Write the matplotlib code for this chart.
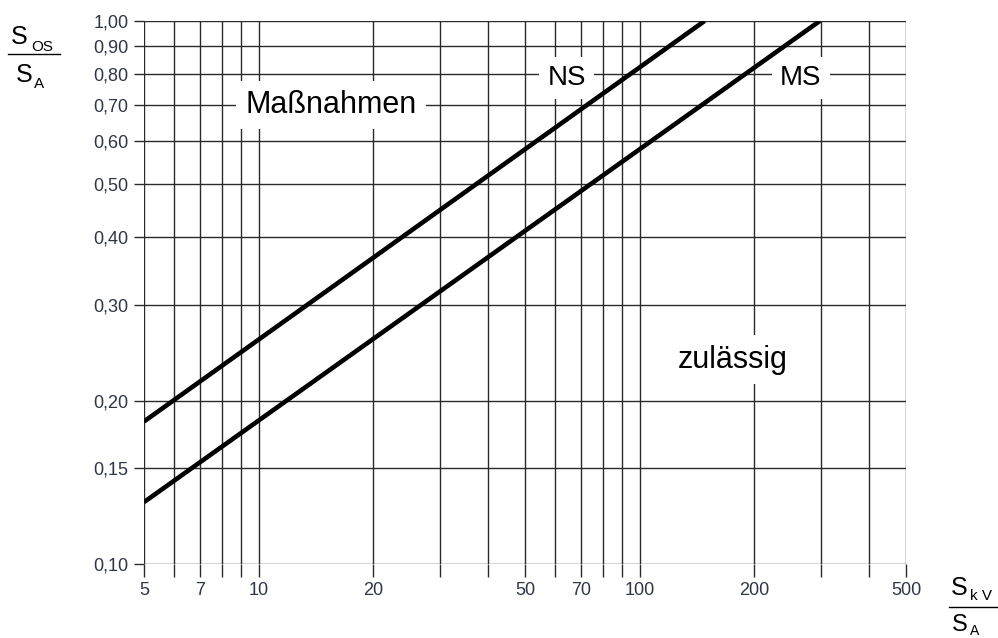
import matplotlib
matplotlib.use('Agg')
import matplotlib.pyplot as plt
from matplotlib.lines import Line2D

plt.rcParams['font.family'] = ['Liberation Sans', 'DejaVu Sans']

# Data (S_kV/S_A vs S_OS/S_A, log-log)
ns_x = [5, 148]
ns_y = [0.183, 1.0]
ms_x = [5, 297]
ms_y = [0.130, 1.0]

# Grid / tick positions and labels
x_grid = [5, 6, 7, 8, 9, 10, 20, 30, 40, 50, 60, 70, 80, 90, 100, 200, 300, 400, 500]
x_labeled = [5, 7, 10, 20, 50, 70, 100, 200, 500]
y_grid = [0.10, 0.15, 0.20, 0.30, 0.40, 0.50, 0.60, 0.70, 0.80, 0.90, 1.00]
y_labels = ['0,10', '0,15', '0,20', '0,30', '0,40', '0,50', '0,60', '0,70', '0,80', '0,90', '1,00']

fig = plt.figure(figsize=(9.98, 6.38), dpi=100)
ax = fig.add_axes([0.1443, 0.1160, 0.7635, 0.8511])
ax.set_xscale('log')
ax.set_yscale('log')
ax.set_xlim(5, 500)
ax.set_ylim(0.10, 1.00)

grid_col = '#2a2a2a'
for xv in x_grid:
    ax.axvline(xv, color=grid_col, lw=1.0, zorder=1)
for yv in y_grid:
    ax.axhline(yv, color=grid_col, lw=1.0, zorder=1)

ax.plot(ns_x, ns_y, color='black', lw=3.3, solid_capstyle='butt', zorder=3)
ax.plot(ms_x, ms_y, color='black', lw=3.3, solid_capstyle='butt', zorder=3)

ax.xaxis.set_minor_locator(matplotlib.ticker.NullLocator())
ax.yaxis.set_minor_locator(matplotlib.ticker.NullLocator())
ax.set_xticks(x_grid)
ax.set_xticklabels([str(v) if v in x_labeled else '' for v in x_grid])
ax.set_yticks(y_grid)
ax.set_yticklabels(y_labels)
ax.tick_params(axis='x', length=9, width=1.0, color=grid_col, pad=4,
               labelsize=13, labelcolor='#2e3545')
ax.tick_params(axis='y', length=7, width=1.0, color=grid_col, pad=4,
               labelsize=13, labelcolor='#2e3545')
for s in ax.spines.values():
    s.set_visible(False)

# region labels: white box hides the grid, curves stay on top
box = dict(boxstyle='square,pad=0.3', facecolor='white', edgecolor='none')
ax.text(15.5, 0.70, 'Maßnahmen', fontsize=22, ha='center', va='center', bbox=box, zorder=2)
ax.text(64.4, 0.785, 'NS', fontsize=20, ha='center', va='center', bbox=box, zorder=2)
ax.text(265, 0.785, 'MS', fontsize=20, ha='center', va='center', bbox=box, zorder=2)
ax.text(175, 0.238, 'zulässig', fontsize=22, ha='center', va='center', bbox=box, zorder=2)

# axis labels as fractions (figure pixel coords -> fractions)
W, H = 998, 638
def fx(px):
    return px / W
def fy(py):
    return 1 - py / H

fig.text(fx(11), fy(44), 'S', fontsize=18, ha='left', va='baseline')
fig.text(fx(31), fy(51), 'OS', fontsize=11, ha='left', va='baseline')
fig.add_artist(Line2D([fx(8), fx(60)], [fy(54), fy(54)], color='black', lw=1.0))
fig.text(fx(16), fy(82), 'S', fontsize=18, ha='left', va='baseline')
fig.text(fx(34), fy(88), 'A', fontsize=11, ha='left', va='baseline')

fig.text(fx(951), fy(595), 'S', fontsize=18, ha='left', va='baseline')
fig.text(fx(970), fy(600), 'k V', fontsize=11, ha='left', va='baseline')
fig.add_artist(Line2D([fx(949), fx(998)], [fy(607), fy(607)], color='black', lw=1.0))
fig.text(fx(952), fy(631), 'S', fontsize=17, ha='left', va='baseline')
fig.text(fx(970), fy(635), 'A', fontsize=10, ha='left', va='baseline')

fig.savefig('out.png', dpi=100)
